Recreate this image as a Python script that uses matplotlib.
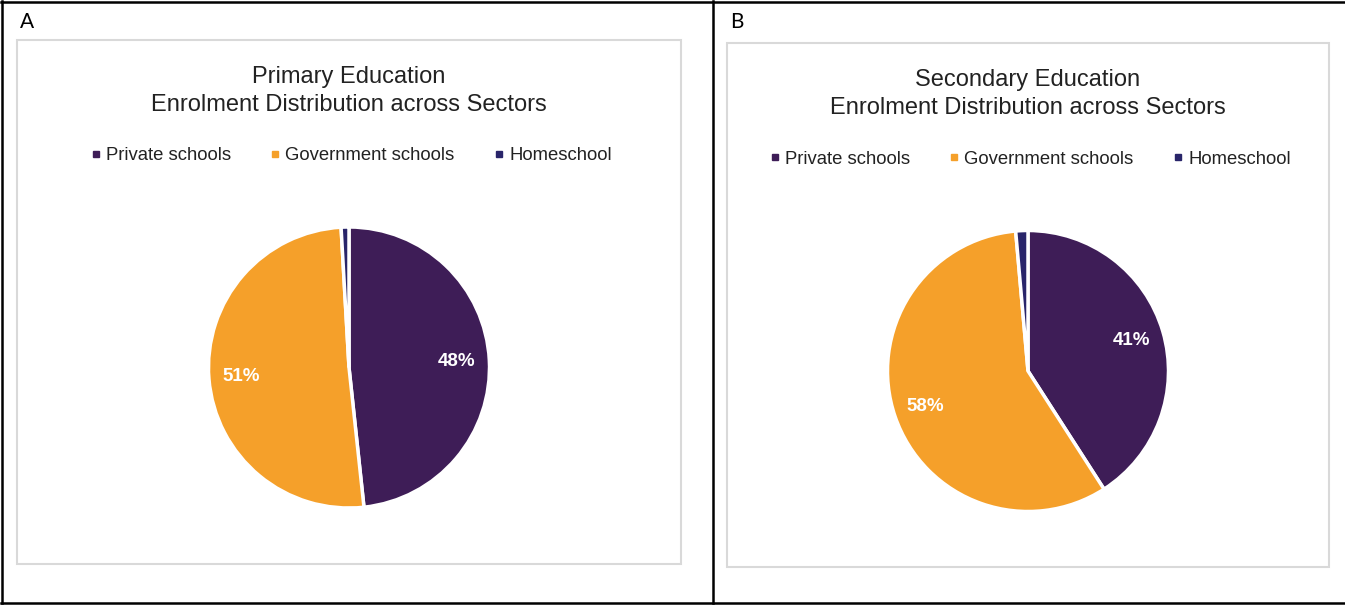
import matplotlib.pyplot as plt
from matplotlib.lines import Line2D
from matplotlib.patches import Rectangle

W, H = 1345, 605

sectors = ["Private schools", "Government schools", "Homeschool"]
colors = ["#3E1D57", "#F5A02A", "#29256A"]

primary_share = [48.3, 50.8, 0.9]
secondary_share = [40.9, 57.7, 1.4]

panels = [
    {"letter": "A", "title": "Primary Education\nEnrolment Distribution across Sectors",
     "values": primary_share, "box": (17, 40, 681, 564), "center": (349, 367.5),
     "title_y": 91, "legend_y": 156},
    {"letter": "B", "title": "Secondary Education\nEnrolment Distribution across Sectors",
     "values": secondary_share, "box": (727, 43, 1329, 567), "center": (1028, 371),
     "title_y": 94, "legend_y": 159},
]

plt.rcParams["font.family"] = ["Liberation Sans", "DejaVu Sans"]

fig = plt.figure(figsize=(W / 100, H / 100), dpi=100)


def fx(x):
    return x / W


def fy(y):
    return 1 - y / H


# outer frame (open on the right) and the divider between the panels
for (x0, y0, x1, y1) in [(1, 1.5, 1345, 1.5), (1, 603, 1345, 603), (2, 1, 2, 603),
                         (713, 1, 713, 603)]:
    fig.add_artist(Line2D([fx(x0), fx(x1)], [fy(y0), fy(y1)], color="black", lw=1.8))

radius = 140.5

for p in panels:
    x0, y0, x1, y1 = p["box"]
    fig.add_artist(Rectangle((fx(x0), fy(y1)), fx(x1 - x0), (y1 - y0) / H,
                             fill=False, edgecolor="#D9D9D9", lw=1.5))
    fig.text(fx(x0 + 3), fy(22), p["letter"], fontsize=15, family="Lato",
             ha="left", va="center", color="black")
    cx, cy = p["center"]
    fig.text(fx(cx), fy(p["title_y"]), p["title"], fontsize=17, ha="center",
             va="center", color="#222222", linespacing=1.38)

    ax = fig.add_axes([fx(cx - radius), fy(cy + radius), 2 * radius / W, 2 * radius / H])
    wedges, texts, autotexts = ax.pie(
        p["values"], colors=colors, startangle=90, counterclock=False,
        autopct=lambda v: f"{v:.0f}%" if v > 5 else "", pctdistance=0.77,
        wedgeprops={"edgecolor": "white", "linewidth": 2.5},
        textprops={"color": "white", "fontsize": 13.5, "fontweight": "bold"})
    ax.set_xlim(-1, 1)
    ax.set_ylim(-1, 1)
    ax.axis("off")

    handles = [Line2D([], [], marker="s", linestyle="", markersize=4.5,
                      markerfacecolor=c, markeredgecolor=c) for c in colors]
    fig.legend(handles, sectors, loc="center", bbox_to_anchor=(fx(cx), fy(p["legend_y"])),
               ncol=3, frameon=False, fontsize=13.3, handletextpad=0.05,
               columnspacing=1.9, handlelength=1.0, labelcolor="#222222")

fig.savefig("out.png", dpi=100)
